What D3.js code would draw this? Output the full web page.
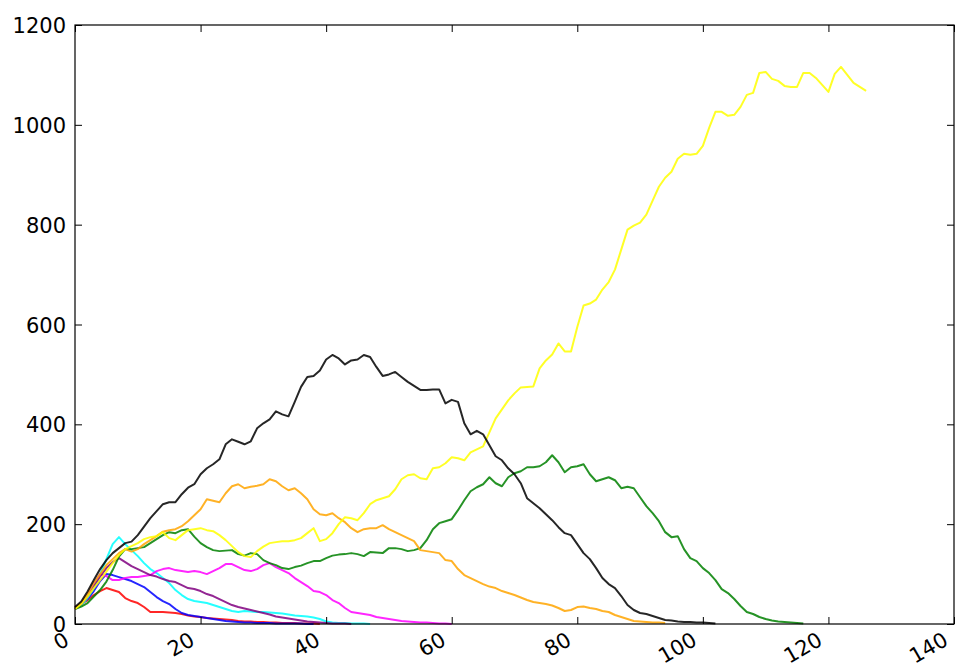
<!DOCTYPE html>
<html>
<head>
<meta charset="utf-8">
<script src="https://cdn.jsdelivr.net/npm/d3@7"></script>
<style>
html,body{margin:0;padding:0;background:#fff;}
svg{display:block;}
text{font-family:"DejaVu Sans",sans-serif;}
</style>
</head>
<body>
<svg id="chart" width="955" height="669"></svg>
<script>
// ---- data (value at x = 0,1,2,...) ----
const redVals = [34,40,48,58,66,72,68,64,52,46,42,34,24,24,24,23,22,20,17,15,14,12,11,10,9,8,6,5,5,4,4,3,3,2,2,2,1,1,1,0];
const blueVals = [32,40,50,66,86,100,98,94,90,86,80,74,64,54,46,40,30,22,18,16,14,12,10,8,6,5,4,3,3,2,2,2,1,1,1,1,1,0,0];
const cyanVals = [30,38,52,72,100,130,160,174,160,148,136,122,110,102,92,82,68,58,50,46,44,42,38,34,30,26,24,26,25,24,24,23,22,21,19,17,16,15,13,10,5,3,2,2,1,1,1,0];
const magentaVals = [30,40,58,80,100,96,88,88,92,94,94,96,98,106,110,112,108,106,104,106,104,100,106,112,120,120,114,108,106,110,118,122,114,108,102,92,84,76,66,64,58,48,42,32,24,22,20,18,14,12,10,8,6,5,4,3,3,2,1,1,0];
const purpleVals = [32,40,55,75,95,112,124,132,124,116,110,104,98,95,90,86,84,78,72,70,66,60,56,50,44,38,34,31,28,25,22,19,15,13,11,9,7,5,4,3,2,1,1,1,0];
const greenVals = [30,35,42,55,68,85,108,135,150,150,152,154,162,170,178,184,182,188,190,175,162,154,148,146,147,148,140,137,142,140,128,122,118,112,110,114,117,122,126,126,132,137,139,140,142,140,136,144,143,142,152,152,150,146,148,152,168,190,202,206,210,228,248,266,274,280,294,282,276,294,302,306,314,314,316,324,338,324,304,314,316,320,300,286,290,294,288,272,275,272,254,236,222,206,184,174,176,150,132,126,112,102,88,70,62,50,36,24,20,14,10,7,5,4,3,2,1];
const orangeVals = [30,42,60,82,100,118,130,142,150,145,150,160,168,176,185,188,190,196,206,218,230,250,247,244,262,276,280,272,275,277,280,290,286,276,268,272,262,250,230,220,218,222,212,204,192,184,190,192,192,198,190,184,178,172,166,148,146,144,142,128,126,110,98,92,86,80,75,72,66,62,58,53,48,44,42,40,37,32,26,28,34,35,32,30,26,24,18,14,10,6,5,4,3,3,2];
const yellowVals = [30,40,55,72,88,105,122,138,150,156,162,170,174,176,184,172,168,178,188,190,192,188,186,178,168,156,144,136,134,146,155,162,164,166,166,168,172,182,192,166,170,182,200,214,212,208,222,240,248,252,256,270,290,298,300,292,290,312,314,322,334,332,328,344,350,356,384,412,430,448,462,474,475,476,512,528,540,562,546,546,595,638,642,650,670,685,710,750,790,798,804,820,848,876,894,906,932,942,940,942,958,994,1026,1026,1018,1020,1036,1060,1064,1104,1106,1092,1088,1078,1076,1076,1104,1104,1094,1080,1066,1102,1116,1100,1084,1076,1068];
const blackVals = [34,45,65,88,110,128,142,152,162,165,178,195,212,226,240,244,244,260,273,280,300,312,320,330,360,370,365,360,366,392,402,410,426,420,416,445,475,495,497,508,530,539,532,520,528,530,539,535,515,497,500,505,495,485,477,469,469,470,470,442,449,445,402,380,387,380,358,336,328,312,300,282,252,242,232,220,208,194,182,178,160,142,130,112,92,80,72,56,38,28,22,20,16,12,8,7,5,4,4,3,3,2,1];

const seriesNames = ["red","blue","cyan","magenta","purple","green","orange","yellow","black"];
const seriesColors = ["#ff0000","#0000ff","#00ffff","#ff00ff","#800080","#008000","#ffa500","#ffff00","#000000"];
const seriesValues = [redVals,blueVals,cyanVals,magentaVals,purpleVals,greenVals,orangeVals,yellowVals,blackVals];

const xTicks = [0,20,40,60,80,100,120,140];
const yTicks = [0,200,400,600,800,1000,1200];

// ---- layout ----
const W = 955, H = 669;
const mLeft = 75, mRight = 954, mTop = 25, mBottom = 624;

const svg = d3.select("#chart");
const x = d3.scaleLinear().domain([0,140]).range([mLeft,mRight]);
const y = d3.scaleLinear().domain([0,1200]).range([mBottom,mTop]);

// lines
const line = d3.line().x((d,i)=>x(i)).y(d=>y(d));
const g = svg.append("g");
seriesValues.forEach((vals,k)=>{
  g.append("path")
    .datum(vals)
    .attr("fill","none")
    .attr("stroke",seriesColors[k])
    .attr("stroke-opacity",0.85)
    .attr("stroke-width",2)
    .attr("stroke-linejoin","round")
    .attr("d",line);
});

// axes with inward ticks
const tl = 7;
const fs = 21;
const axB = svg.append("g").attr("transform",`translate(0,${mBottom})`)
  .call(d3.axisBottom(x).tickValues(xTicks).tickSize(-tl).tickPadding(0).tickFormat(d3.format("d")));
const axT = svg.append("g").attr("transform",`translate(0,${mTop})`)
  .call(d3.axisTop(x).tickValues(xTicks).tickSize(-tl).tickFormat(""));
const axL = svg.append("g").attr("transform",`translate(${mLeft},0)`)
  .call(d3.axisLeft(y).tickValues(yTicks).tickSize(-tl).tickPadding(9).tickFormat(d3.format("d")));
const axR = svg.append("g").attr("transform",`translate(${mRight},0)`)
  .call(d3.axisRight(y).tickValues(yTicks).tickSize(-tl).tickFormat(""));

[axB,axT,axL,axR].forEach(a=>{
  a.select(".domain").remove();
  a.selectAll(".tick line").attr("stroke","#000").attr("stroke-width",1);
});
axL.selectAll(".tick text").attr("font-size",fs).attr("font-family","DejaVu Sans").attr("fill","#000")
  .attr("dy","0.36em");
axB.selectAll(".tick text")
  .attr("font-size",fs).attr("font-family","DejaVu Sans").attr("fill","#000")
  .attr("text-anchor","end")
  .attr("y",0).attr("dy",0)
  .attr("transform","translate(-5,20) rotate(-30)");

// frame
svg.append("rect")
  .attr("x",mLeft).attr("y",mTop)
  .attr("width",mRight-mLeft).attr("height",mBottom-mTop)
  .attr("fill","none").attr("stroke","#000").attr("stroke-width",1.2);
</script>
</body>
</html>
